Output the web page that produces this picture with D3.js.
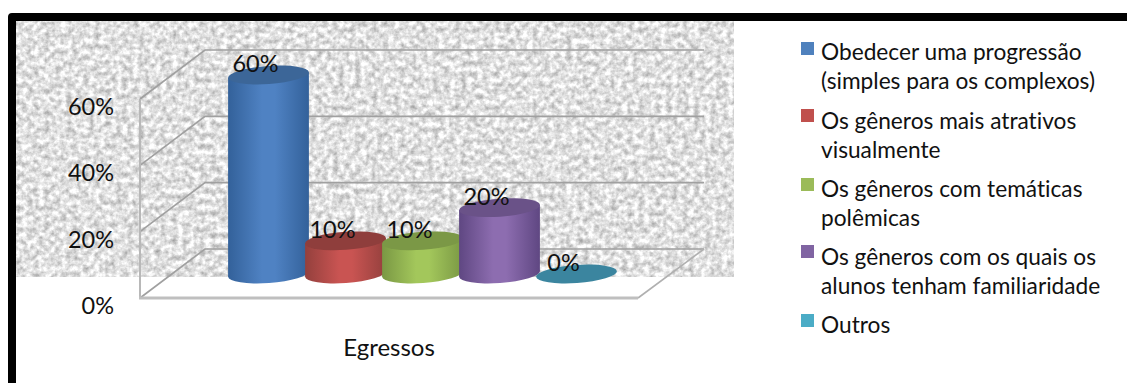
<!DOCTYPE html>
<html lang="pt">
<head>
<meta charset="utf-8">
<script src="https://cdn.jsdelivr.net/npm/d3@7"></script>
<style>
html,body{margin:0;padding:0;background:#fff;overflow:hidden}
text{font-family:Lato,"Open Sans",sans-serif;fill:#111;font-variant-ligatures:none}
</style>
</head>
<body>
<svg id="chart" width="1127" height="383"></svg>
<script>
// Chart data
const categoryName = "Egressos";
const seriesLabels = [
  ["Obedecer uma progressão", "(simples para os complexos)"],
  ["Os gêneros mais atrativos", "visualmente"],
  ["Os gêneros com temáticas", "polêmicas"],
  ["Os gêneros com os quais os", "alunos tenham familiaridade"],
  ["Outros"]
];
const seriesValues = [60, 10, 10, 20, 0];
const axisTicks = [0, 20, 40, 60];

// Palette per series: legend/centre colour, edge shade, lid shade
const baseColors = ["#4f81bd", "#c0504d", "#9bbb59", "#8064a2", "#4bacc6"];
const centerColors = ["#4f82c3", "#c95452", "#a3c75b", "#8d6db0", "#3b859f"];
const edgeColors = ["#33619a", "#94403d", "#7a9844", "#5f4782", "#3b859f"];
const lidColors = ["#3c6698", "#8f3e3c", "#7b9846", "#6a5288", "#3b859f"];

const svg = d3.select("#chart");
const defs = svg.append("defs");

// Mottled grey paper behind the plot
const paper = defs.append("filter").attr("id", "paper")
  .attr("x", 0).attr("y", 0).attr("width", 1).attr("height", 1)
  .attr("color-interpolation-filters", "sRGB");
paper.append("feTurbulence").attr("type", "fractalNoise")
  .attr("baseFrequency", 0.18).attr("numOctaves", 3).attr("seed", 11);
paper.append("feColorMatrix").attr("type", "matrix")
  .attr("values", "0.56 0 0 0 0.6  0.56 0 0 0 0.6  0.56 0 0 0 0.6  0 0 0 0 1");
paper.append("feGaussianBlur").attr("stdDeviation", 0.7);

svg.append("rect").attr("x", 16).attr("y", 21).attr("width", 718).attr("height", 256)
  .attr("filter", "url(#paper)");

// Heavy frame along the top and left
svg.append("path")
  .attr("d", "M12,383V17H1127")
  .attr("fill", "none").attr("stroke", "#000").attr("stroke-width", 8)
  .attr("stroke-linejoin", "round");

// Oblique projection: the back wall sits up and to the right of the front plane
const depthX = 65, depthY = -49;
const yFront = d3.scaleLinear().domain([0, 60]).range([298, 99]);
const yBack = v => yFront(v) + depthY;
const xLeft = 140, xFrontRight = 638;

const walls = svg.append("g").attr("fill", "none").attr("stroke", "#a0a0a0");
axisTicks.forEach(t => {
  // Back wall rule and its run down the side wall
  walls.append("path")
    .attr("stroke-width", 1.7)
    .attr("d", d3.line()([
      [xLeft, yFront(t)],
      [xLeft + depthX, yBack(t)],
      [xFrontRight + depthX + 1, yBack(t)]
    ]));
});
walls.append("line").attr("x1", xLeft).attr("x2", xLeft)
  .attr("y1", yFront(60)).attr("y2", yFront(0))
  .attr("stroke", "#b8b8b8").attr("stroke-width", 2);
walls.append("line").attr("x1", xFrontRight).attr("y1", yFront(0))
  .attr("x2", xFrontRight + depthX + 1).attr("y2", yBack(0))
  .attr("stroke", "#b0b0b0").attr("stroke-width", 1.6);
walls.append("line").attr("x1", xLeft - 1).attr("x2", xFrontRight)
  .attr("y1", yFront(0)).attr("y2", yFront(0))
  .attr("stroke", "#bfbfbf").attr("stroke-width", 3);

// Value axis
const axisG = svg.append("g").attr("transform", "translate(123,8)")
  .call(d3.axisLeft(yFront).tickValues(axisTicks).tickSize(0).tickPadding(9).tickFormat(d => d + "%"));
axisG.select(".domain").remove();
axisG.selectAll("text").attr("font-size", 23.5).attr("font-family", "Lato,'Open Sans',sans-serif").attr("fill", "#111");

// Cylinders
const xBand = d3.scaleBand().domain(d3.range(seriesValues.length)).range([230, 615]);
const rx = 40.5, ry = 9, tilt = -4, floorY = 274;
const rad = tilt * Math.PI / 180;
const yBar = d3.scaleLinear().domain([0, 60]).range([floorY, floorY - 199]);

seriesValues.forEach((v, i) => {
  const grad = defs.append("linearGradient").attr("id", "body" + i);
  [[0, edgeColors[i]], [0.42, centerColors[i]], [0.58, centerColors[i]], [1, edgeColors[i]]]
    .forEach(([o, c]) => grad.append("stop").attr("offset", o).attr("stop-color", c));
});

const bars = svg.append("g");
seriesValues.forEach((v, i) => {
  const cx = xBand(i) + xBand.bandwidth() / 2;
  const top = yBar(v), base = yBar(0);
  const dx = rx * Math.cos(rad), dy = rx * Math.sin(rad);
  const g = bars.append("g");
  if (v > 0) {
    // Rounded foot first, then the straight wall up to the lid
    g.append("ellipse")
      .attr("cx", cx).attr("cy", base).attr("rx", rx).attr("ry", ry)
      .attr("transform", `rotate(${tilt} ${cx} ${base})`)
      .attr("fill", `url(#body${i})`);
    g.append("path")
      .attr("fill", `url(#body${i})`)
      .attr("d", d3.line()([
        [cx - dx, top - dy],
        [cx - dx, base - dy],
        [cx + dx, base + dy],
        [cx + dx, top + dy]
      ]) + "Z");
  }
  g.append("ellipse")
    .attr("cx", cx).attr("cy", top).attr("rx", rx).attr("ry", ry)
    .attr("transform", `rotate(${tilt} ${cx} ${top})`)
    .attr("fill", lidColors[i]);
});

// Value labels sit on the cylinder lids
svg.append("g").selectAll("text").data(seriesValues).join("text")
  .attr("x", (d, i) => xBand(i) + xBand.bandwidth() / 2 - 13)
  .attr("y", d => yBar(d) - 3)
  .attr("text-anchor", "middle")
  .attr("font-size", 23.5)
  .text(d => d + "%");

// Category label
svg.append("text").attr("x", 389).attr("y", 356)
  .attr("text-anchor", "middle").attr("font-size", 24).text(categoryName);

// Legend
const swatchTops = [42, 109, 178, 245, 314];
const lineTops = [60, 129, 197, 265, 333];
const legend = svg.append("g");
seriesLabels.forEach((lines, i) => {
  legend.append("rect").attr("x", 801).attr("y", swatchTops[i])
    .attr("width", 13).attr("height", 13).attr("fill", baseColors[i]);
  lines.forEach((line, j) => {
    legend.append("text").attr("x", 821).attr("y", lineTops[i] + j * 29)
      .attr("font-size", 22.7).text(line);
  });
});
</script>
</body>
</html>
